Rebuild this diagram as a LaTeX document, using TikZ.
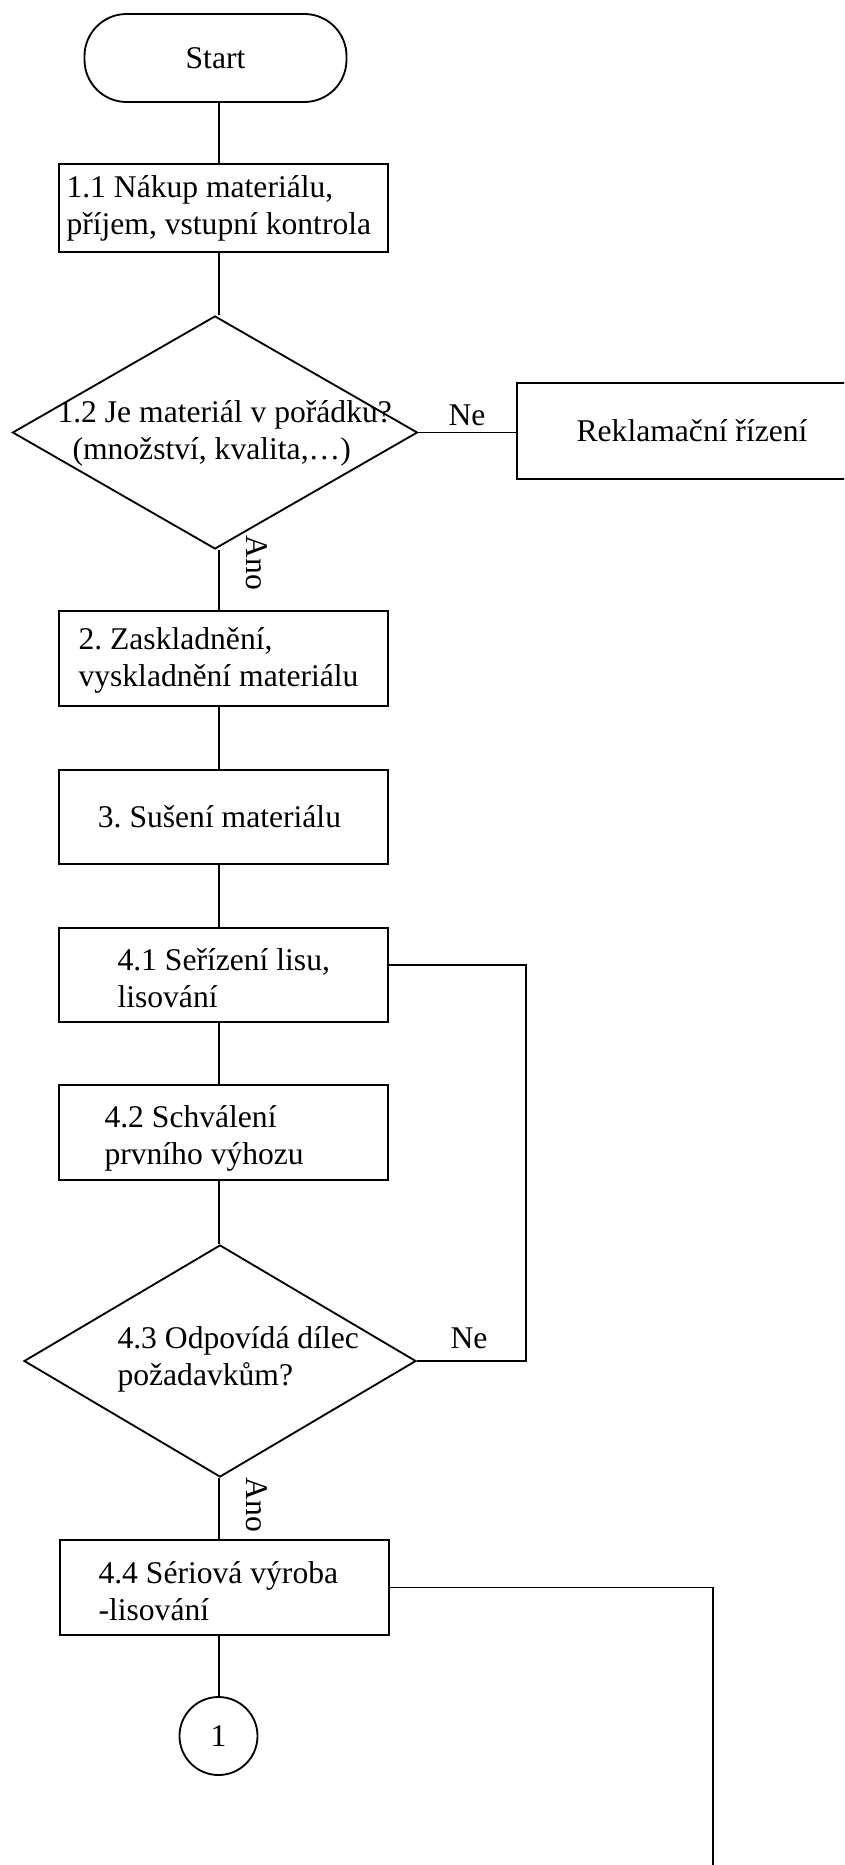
\documentclass[tikz,border=0pt]{standalone}
\usepackage{fontspec}
\setmainfont{Liberation Serif}
\usetikzlibrary{shapes.geometric}
\frenchspacing
\newdimen\px
\px=0.3797pt
\tikzset{
  base/.style={font=\fontsize{12pt}{14pt}\selectfont},
  term/.style={base, draw, line width=0.7pt, rounded corners=16pt, minimum width=262\px, minimum height=88\px, inner sep=0pt},
  proc/.style={base, draw, line width=0.7pt, minimum width=329\px, minimum height=94\px, inner sep=0pt},
  decision/.style={draw, line width=0.7pt, diamond, inner sep=0pt},
  conn/.style={base, draw, line width=0.7pt, circle, minimum size=78\px, inner sep=0pt},
  txt/.style={base, align=left, anchor=west, inner sep=0pt},
  lbl/.style={base, inner sep=0pt},
  wire/.style={line width=0.7pt}
}
\begin{document}
\begin{tikzpicture}[x=1\px, y=-1\px]
\useasboundingbox (0,0) rectangle (844,1865);
\clip (0,0) rectangle (844,1865);
\coordinate (axis) at (219,0);

% start terminal
\node[term] (start) at (215.5,58) {Start};

% process boxes
\node[proc, minimum height=88\px] (b11) at (223.5,208) {};
\node[txt] (t11) at (66,208) {1.1 Nákup materiálu,\\příjem, vstupní kontrola};

\node[decision, minimum width=405\px, minimum height=233\px] (d12) at (215,432.5) {};
\node[txt] (t12) at (57,433) {1.2 Je materiál v pořádku?\\\hspace*{15\px}(množství, kvalita,…)};

\node[proc, minimum width=350\px, minimum height=96\px] (rekl) at (692,431) {Reklamační řízení};

\node[proc, minimum height=95\px] (b2) at (223.5,658.5) {};
\node[txt] (t2) at (78,660) {2. Zaskladnění,\\vyskladnění materiálu};

\node[proc] (b3) at (223.5,817) {\hspace*{-8\px}3. Sušení materiálu};

\node[proc] (b41) at (223.5,975) {};
\node[txt] (t41) at (117,978) {4.1 Seřízení lisu,\\lisování};

\node[proc, minimum height=95\px] (b42) at (223.5,1132.5) {};
\node[txt] (t42) at (104,1138) {4.2 Schválení\\prvního výhozu};

\node[decision, minimum width=392\px, minimum height=232\px] (d43) at (220,1361) {};
\node[txt] (t43) at (117,1359) {4.3 Odpovídá dílec\\požadavkům?};

\node[proc, minimum height=95\px] (b44) at (224.5,1587.5) {};
\node[txt] (t44) at (98,1591) {4.4 Sériová výroba\\-lisování};

\node[conn] (c1) at (218.5,1736) {1};

% branch labels
\node[lbl] (ne1) at (467,415) {Ne};
\node[lbl] (ne2) at (469,1338) {Ne};
\node[lbl, rotate=-90] (ano1) at (257,563) {Ano};
\node[lbl, rotate=-90] (ano2) at (257,1505) {Ano};

% main flow
\draw[wire] (start.south -| axis) -- (b11.north -| axis);
\draw[wire] (b11.south -| axis) -- (d12.north -| axis);
\draw[wire] (d12.south -| axis) -- (b2.north -| axis);
\draw[wire] (b2.south -| axis) -- (b3.north -| axis);
\draw[wire] (b3.south -| axis) -- (b41.north -| axis);
\draw[wire] (b41.south -| axis) -- (b42.north -| axis);
\draw[wire] (b42.south -| axis) -- (d43.north -| axis);
\draw[wire] (d43.south -| axis) -- (b44.north -| axis);
\draw[wire] (b44.south -| axis) -- (c1.north -| axis);

% side branches
\draw[wire] (d12.east) -- (rekl.west |- d12.east);
\coordinate (fb) at (526,965);
\draw[wire] (b41.east |- fb) -- (fb) -- (fb |- d43.east) -- (d43.east);
\coordinate (down) at (713,1880);
\draw[wire] (b44.east) -| (down);
\end{tikzpicture}
\end{document}
